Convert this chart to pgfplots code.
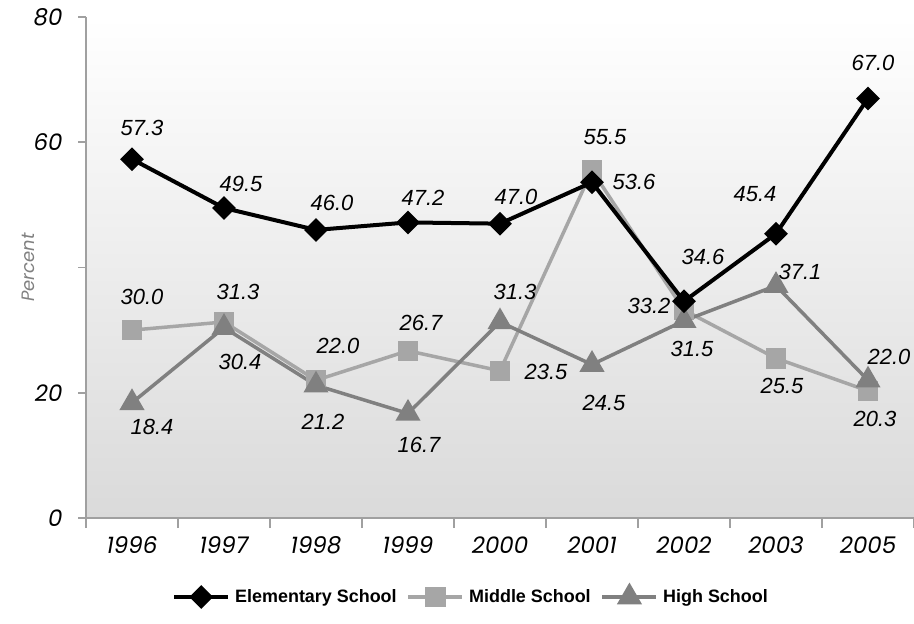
\documentclass[border=0pt]{standalone}
\usepackage{pgfplots}
\pgfplotsset{compat=1.18}
\usepackage{pgfplotstable}
\usepackage{fontspec}
\setmainfont{Liberation Sans}
\newfontfamily\gothic{Poppins}
\definecolor{midc}{RGB}{166,166,166}
\definecolor{highc}{RGB}{128,128,128}
\definecolor{axc}{RGB}{160,160,160}
\definecolor{bgbot}{RGB}{218,218,218}

\pgfplotstableread{
x y dx dy
0 57.3 10 31
1 49.5 17 24
2 46.0 16 27
3 47.2 15 25
4 47.0 16 27
5 53.6 42 0
6 34.6 19 44
7 45.4 -21 40
8 67.0 5 35
}\elem
\pgfplotstableread{
x y dx dy
0 30.0 10 33
1 31.3 14 30
2 22.0 22 34
3 26.7 13 28
4 23.5 46 -1
5 55.5 13 33
6 33.2 -35 4
7 25.5 6 -28
8 20.3 7 -28
}\mid
\pgfplotstableread{
x y dx dy
0 18.4 20 -24
1 30.4 16 -34
2 21.2 7 -37
3 16.7 11 -32
4 31.3 15 30
5 24.5 12 -38
6 31.5 8 -28
7 37.1 24 14
8 22.0 21 23
}\high

\pgfplotsset{
  elemst/.style={black, line width=4bp, mark=square*, mark size=6.4bp, mark options={rotate=45, solid}},
  midst/.style={midc, line width=3.5bp, mark=square*, mark size=8.5bp, mark options={solid}},
  highst/.style={highc, line width=3.5bp, mark=triangle*, mark size=11bp, mark options={solid}},
  lbl/.style={
    visualization depends on={\thisrow{dx} \as \dx},
    visualization depends on={\thisrow{dy} \as \dy},
    nodes near coords={\pgfmathprintnumber[fixed,fixed zerofill,precision=1,assume math mode=true]{\pgfplotspointmeta}},
    nodes near coords style={anchor=center, xshift=\dx bp, yshift=\dy bp, text=black, font=\fontsize{22}{26}\selectfont\itshape, inner sep=0pt},
  },
}

\begin{document}
\begin{tikzpicture}
\path[use as bounding box] (-86bp,-106bp) rectangle (828bp,518bp);
\begin{axis}[
  at={(0,0)}, anchor=south west,
  scale only axis, width=828bp, height=501bp,
  xmin=-0.5, xmax=8.5, ymin=0, ymax=80,
  clip=false,
  /pgf/number format/assume math mode=true,
  axis lines*=left,
  axis line style={axc, line width=1.6bp},
  axis background/.style={shade, top color=white, bottom color=bgbot},
  xtick={0,...,8},
  xticklabels={1996,1997,1998,1999,2000,2001,2002,2003,2005},
  minor xtick={-0.5,0.5,...,8.5},
  major x tick style={draw=none},
  minor x tick style={axc, line width=1.6bp},
  minor tick length=10bp,
  ytick={0,20,40,60,80},
  yticklabels={0,20,,60,80},
  y tick style={axc, line width=1.6bp},
  major tick length=8bp,
  tick align=outside,
  xticklabel style={font=\gothic\itshape\fontsize{23}{27}\selectfont, anchor=center, yshift=-19bp},
  yticklabel style={font=\gothic\itshape\fontsize{23}{27}\selectfont, anchor=east, xshift=-12bp},
  ylabel={Percent},
  ylabel style={font=\gothic\itshape\fontsize{18}{22}\selectfont, text=highc, at={(axis description cs:-0.070,0.5)}, anchor=center},
  legend columns=3,
  legend style={draw=none, fill=none, at={(0.465,-0.156)}, anchor=center,
    font=\bfseries\fontsize{18}{22}\selectfont,
    /tikz/every even column/.append style={column sep=8bp},
    /tikz/every odd column/.append style={column sep=3bp}},
  legend image code/.code={\draw[mark repeat=2,mark phase=2,#1] plot coordinates {(0bp,0bp) (27bp,0bp) (54bp,0bp)};},
]
\addlegendimage{elemst}\addlegendentry{Elementary School}
\addlegendimage{midst}\addlegendentry{Middle School}
\addlegendimage{highst}\addlegendentry{High School}
\addplot[midst, lbl, forget plot] table[x=x, y=y] {\mid};
\addplot[highst, lbl, forget plot] table[x=x, y=y] {\high};
\addplot[elemst, lbl, forget plot] table[x=x, y=y] {\elem};
\end{axis}
\end{tikzpicture}
\end{document}
